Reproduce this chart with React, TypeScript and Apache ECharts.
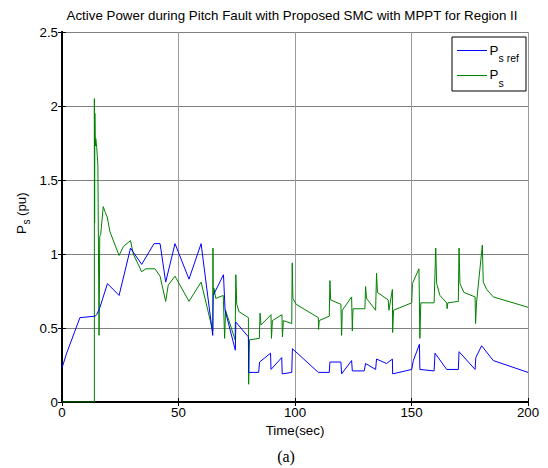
import React, { useEffect, useRef } from "react";
import * as echarts from "echarts";

const titleText = "Active Power during Pitch Fault with Proposed SMC with MPPT for Region II";
const xTicks = { min: 0, max: 200, interval: 50 };
const yTicks = { min: 0, max: 2.5, interval: 0.5 };

// P_s ref (blue) : [time (s), power (pu)]
const psRef: [number, number][] = [
  [0, 0.23], [2, 0.33], [7.7, 0.57], [14.2, 0.58], [14.9, 0.59], [16.3, 0.64], [19.5, 0.8],
  [24.5, 0.72], [29.4, 1.04], [34.2, 0.93], [39.5, 1.07], [42.1, 1.07], [44.5, 0.81],
  [48.5, 1.07], [54.5, 0.83], [59.7, 1.07], [64.7, 0.45], [64.9, 0.72], [69.3, 0.86],
  [70, 0.62], [74.4, 0.35], [74.6, 0.54], [80, 0.44], [80.1, 0.2], [84.4, 0.2], [84.8, 0.27],
  [89.5, 0.33], [89.7, 0.22], [94.3, 0.3], [94.5, 0.19], [98.6, 0.2], [98.9, 0.36],
  [110, 0.2], [114.7, 0.2], [115, 0.27], [119.7, 0.27], [120, 0.19], [124.3, 0.28],
  [124.6, 0.21], [129.7, 0.21], [130.3, 0.26], [134.6, 0.22], [135, 0.29], [139.3, 0.26],
  [141.8, 0.29], [141.9, 0.19], [150.1, 0.22], [150.8, 0.28], [153.4, 0.39], [153.6, 0.22],
  [159.7, 0.21], [160.1, 0.33], [165.1, 0.22], [170.1, 0.22], [170.4, 0.34], [177.3, 0.22],
  [177.6, 0.3], [180.1, 0.38], [185.1, 0.28], [200, 0.2],
];

// P_s (green)
const ps: [number, number][] = [
  [0, 0], [13.9, 0], [13.9, 2.05], [14.0, 1.21], [14.1, 1.95], [14.3, 1.73], [14.5, 1.78],
  [14.9, 1.72], [15.4, 1.6], [15.9, 0.45], [16.2, 1.12], [16.6, 1.13], [17.7, 1.32],
  [18.6, 1.28], [19.4, 1.25], [20.6, 1.15], [24.5, 0.99], [26.3, 1.05], [28.6, 1.08],
  [29.4, 1.09], [30.6, 1.0], [34.2, 0.88], [36, 0.9], [39.9, 0.9], [42.1, 0.85], [44.5, 0.68],
  [45.6, 0.79], [48.5, 0.85], [54.5, 0.68], [59.7, 0.81], [64.7, 0.48], [64.8, 1.04],
  [64.9, 0.72], [65.2, 0.77], [66, 0.7], [69.2, 0.72], [69.8, 0.43], [70.2, 0.62],
  [74.3, 0.42], [74.6, 0.86], [75, 0.66], [76, 0.61], [80, 0.57], [80.1, 0.12], [80.5, 0.42],
  [84.7, 0.43], [85, 0.6], [85.4, 0.52], [89.7, 0.59], [89.9, 0.43], [90.3, 0.55],
  [94.4, 0.59], [94.6, 0.44], [95, 0.55], [98.6, 0.53], [98.8, 0.94], [99.1, 0.7],
  [100.5, 0.66], [110, 0.57], [110.1, 0.49], [110.4, 0.55], [114.7, 0.58], [115, 0.82],
  [115.3, 0.69], [119.7, 0.66], [120, 0.45], [120.3, 0.62], [124.3, 0.71], [124.6, 0.48],
  [124.9, 0.63], [130, 0.63], [130.3, 0.78], [130.7, 0.7], [134.6, 0.62], [135, 0.87],
  [135.4, 0.74], [140, 0.69], [140.3, 0.62], [141.8, 0.76], [141.9, 0.47], [142.3, 0.62],
  [150.1, 0.67], [150.4, 0.8], [153.2, 0.9], [153.6, 0.43], [154, 0.67], [159.7, 0.67],
  [160.4, 1.04], [160.8, 0.8], [162.2, 0.72], [165.1, 0.67], [165.3, 0.63], [165.6, 0.67],
  [170.1, 0.68], [170.4, 1.04], [170.8, 0.8], [172.5, 0.74], [177.3, 0.71], [177.5, 0.53],
  [177.9, 0.67], [180.4, 1.06], [180.8, 0.81], [182.3, 0.76], [185.1, 0.71], [200, 0.64],
];

const FONT = "'Liberation Sans', Arial, sans-serif";
const FS = 13.33;

export default function App() {
  const ref = useRef<HTMLDivElement>(null);
  useEffect(() => {
    if (!ref.current) return;
    const chart = echarts.init(ref.current, undefined, { renderer: "svg" });
    const axisLine = { show: true, lineStyle: { color: "#000", width: 2 } };
    const axisTick = { show: true, inside: true, length: 4, lineStyle: { color: "#000", width: 1 } };
    chart.setOption({
      animation: false,
      backgroundColor: "#fff",
      grid: { left: 62, top: 32, width: 466, height: 370 },
      xAxis: [
        {
          type: "value", ...xTicks, position: "bottom",
          axisLine, axisTick,
          axisLabel: { color: "#000", fontSize: FS, fontFamily: FONT, margin: 4 },
          splitLine: { show: true, lineStyle: { color: "#9a9a9a", width: 1 } },
          name: "Time(sec)", nameLocation: "middle", nameGap: 22,
          nameTextStyle: { color: "#000", fontSize: FS, fontFamily: FONT },
        },
        {
          type: "value", ...xTicks, position: "top",
          axisLine, axisTick, axisLabel: { show: false }, splitLine: { show: false },
        },
      ],
      yAxis: [
        {
          type: "value", ...yTicks, position: "left",
          axisLine, axisTick,
          axisLabel: { color: "#000", fontSize: FS, fontFamily: FONT, margin: 4 },
          splitLine: { show: true, lineStyle: { color: "#808080", width: 1 } },
        },
        {
          type: "value", ...yTicks, position: "right",
          axisLine, axisTick, axisLabel: { show: false }, splitLine: { show: false },
        },
      ],
      series: [
        {
          name: "Ps ref", type: "line", data: psRef, showSymbol: false,
          lineStyle: { color: "#0000ff", width: 1 }, itemStyle: { color: "#0000ff" }, z: 3,
        },
        {
          name: "Ps", type: "line", data: ps, showSymbol: false,
          lineStyle: { color: "#008000", width: 1 }, itemStyle: { color: "#008000" }, z: 2,
        },
      ],
      graphic: [
        {
          type: "text", x: 292, y: 15,
          style: { text: titleText, fill: "#000", fontSize: FS, fontFamily: FONT, align: "center", verticalAlign: "middle" },
        },
        {
          type: "group", x: 21, y: 234, rotation: Math.PI / 2,
          children: [
            { type: "text", x: 0, y: 0, style: { text: "P", fill: "#000", fontSize: FS, fontFamily: FONT, align: "left", verticalAlign: "middle" } },
            { type: "text", x: 9.5, y: 5, style: { text: "s", fill: "#000", fontSize: 10, fontFamily: FONT, align: "left", verticalAlign: "middle" } },
            { type: "text", x: 18, y: 0, style: { text: "(pu)", fill: "#000", fontSize: FS, fontFamily: FONT, align: "left", verticalAlign: "middle" } },
          ],
        },
        {
          type: "text", x: 286, y: 456,
          style: { text: "(a)", fill: "#000", fontSize: 16, fontFamily: "'Liberation Serif', 'Times New Roman', serif", align: "center", verticalAlign: "middle" },
        },
        {
          type: "group", z: 100,
          children: [
            { type: "rect", shape: { x: 452, y: 37, width: 74, height: 54 }, style: { fill: "#fff", stroke: "#000", lineWidth: 1 } },
            { type: "line", shape: { x1: 457, y1: 50.5, x2: 487, y2: 50.5 }, style: { stroke: "#0000ff", lineWidth: 1 } },
            { type: "line", shape: { x1: 457, y1: 75.5, x2: 487, y2: 75.5 }, style: { stroke: "#008000", lineWidth: 1 } },
            { type: "text", x: 489.5, y: 50, style: { text: "P", fill: "#000", fontSize: FS, fontFamily: FONT, align: "left", verticalAlign: "middle" } },
            { type: "text", x: 498.5, y: 58, style: { text: "s ref", fill: "#000", fontSize: 10.5, fontFamily: FONT, align: "left", verticalAlign: "middle" } },
            { type: "text", x: 489.5, y: 74, style: { text: "P", fill: "#000", fontSize: FS, fontFamily: FONT, align: "left", verticalAlign: "middle" } },
            { type: "text", x: 498.5, y: 83, style: { text: "s", fill: "#000", fontSize: 10.5, fontFamily: FONT, align: "left", verticalAlign: "middle" } },
          ],
        },
      ],
    });
    return () => chart.dispose();
  }, []);
  return (
    <div
      ref={ref}
      style={{ position: "fixed", left: 0, top: 0, width: 548, height: 468, background: "#fff" }}
    />
  );
}
